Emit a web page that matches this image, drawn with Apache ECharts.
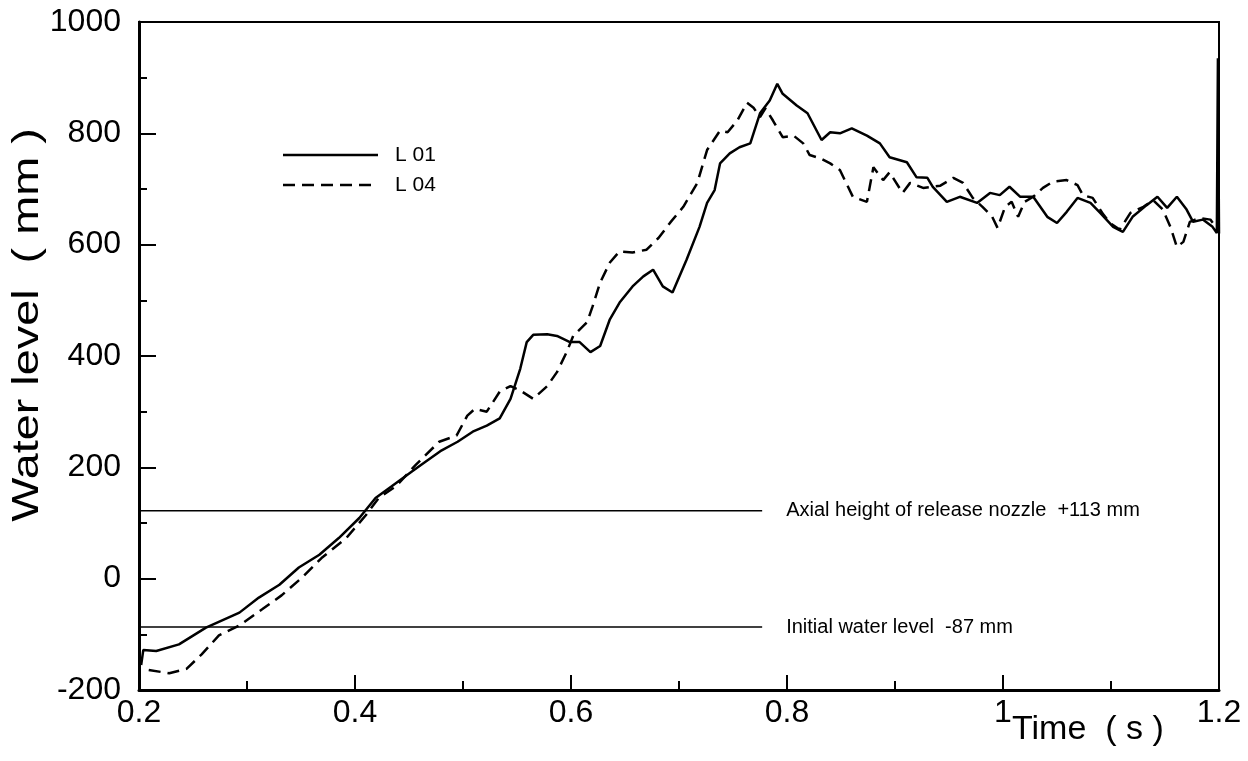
<!DOCTYPE html>
<html><head><meta charset="utf-8">
<script src="https://cdn.jsdelivr.net/npm/echarts@6/dist/echarts.min.js"></script>
<style>html,body{margin:0;padding:0;background:#fff}#c{width:1248px;height:761px}</style>
</head><body><div id="c"></div>
<script>
// ---- data (time in s, water level in mm) ----
const L01_t = [0.202,0.204,0.216,0.237,0.262,0.293,0.311,0.330,0.348,0.367,0.385,0.404,0.419,0.434,0.453,0.463,0.479,0.495,0.509,0.522,0.534,0.544,0.553,0.559,0.565,0.578,0.587,0.599,0.608,0.618,0.627,0.636,0.645,0.657,0.667,0.676,0.685,0.694,0.707,0.719,0.726,0.733,0.738,0.747,0.756,0.766,0.775,0.784,0.791,0.796,0.809,0.819,0.832,0.840,0.849,0.860,0.874,0.886,0.895,0.911,0.920,0.930,0.935,0.948,0.960,0.976,0.988,0.997,1.006,1.016,1.028,1.041,1.050,1.059,1.069,1.081,1.090,1.102,1.111,1.120,1.133,1.143,1.152,1.161,1.170,1.176,1.185,1.194,1.198,1.199,1.200];
const L01_v = [-155,-128,-130,-118,-88,-61,-34,-11,20,43,73,109,145,166,193,207,229,246,264,275,288,323,377,425,438,439,436,425,425,407,418,466,496,525,543,555,525,514,573,632,675,698,746,764,775,782,836,859,889,871,850,836,788,802,800,809,796,782,757,748,721,720,704,677,686,675,693,689,704,686,686,650,639,659,684,675,657,632,623,650,671,686,666,686,663,641,645,632,621,935,620];
const L04_t = [0.209,0.228,0.244,0.258,0.274,0.293,0.314,0.332,0.351,0.369,0.392,0.410,0.422,0.438,0.456,0.478,0.494,0.504,0.511,0.522,0.534,0.544,0.553,0.565,0.578,0.587,0.596,0.602,0.615,0.620,0.627,0.636,0.645,0.657,0.670,0.681,0.692,0.704,0.717,0.726,0.738,0.745,0.754,0.763,0.769,0.775,0.780,0.787,0.796,0.806,0.815,0.821,0.831,0.840,0.849,0.861,0.874,0.880,0.889,0.895,0.907,0.914,0.926,0.942,0.954,0.963,0.972,0.981,0.990,0.995,1.002,1.008,1.014,1.020,1.028,1.037,1.046,1.059,1.069,1.074,1.083,1.093,1.099,1.108,1.118,1.130,1.139,1.148,1.155,1.161,1.167,1.173,1.182,1.192,1.199];
const L04_v = [-164,-170,-162,-136,-102,-84,-55,-30,2,37,73,114,145,166,204,246,257,293,305,300,336,346,338,323,346,371,407,436,461,489,532,568,588,586,591,612,640,668,711,770,805,802,823,855,846,829,845,823,793,796,782,761,755,746,734,686,677,739,716,730,693,711,702,706,720,711,684,668,650,630,668,677,650,677,686,702,713,716,707,689,684,654,639,627,657,668,680,663,632,596,605,641,648,645,627];
const seriesNames = ['L 01','L 04'];
const refLevels = [122, -87];
const refLabels = ['Axial height of release nozzle  +113 mm', 'Initial water level  -87 mm'];
const refSpan = [0.2, 0.777];
const xTicks = {min:0.2, max:1.2, step:0.2};
const yTicks = {min:-200, max:1000, step:200};

function zip(a,b){return a.map((t,i)=>[t,b[i]]);}
const chart = echarts.init(document.getElementById('c'), null, {renderer:'canvas'});
const font = 'Liberation Sans';
const dash = [12,7];
const refSeries = refLevels.map((v,i)=>({
  type:'line', name:'ref'+i, silent:true, symbol:'none', animation:false,
  data:[[refSpan[0],v],[refSpan[1],v]],
  lineStyle:{color:'#000',width:1.5},
  endLabel:{show:true, formatter:refLabels[i], color:'#000', fontFamily:font, fontSize:20, distance:24}
}));
const legendGraphics = [];
seriesNames.forEach((n,i)=>{
  const y = 155 + i*30;
  legendGraphics.push({type:'line', shape:{x1:283,y1:y,x2:378,y2:y}, style:{stroke:'#000', lineWidth:2.5, lineDash: i===1 ? dash : null}});
  legendGraphics.push({type:'text', x:395, y:y, style:{text:n, fill:'#000', font:'21px "Liberation Sans"', verticalAlign:'middle'}});
});
chart.setOption({
  animation:false,
  backgroundColor:'#fff',
  grid:{left:139, top:22, right:29, bottom:71, show:true, borderColor:'#000', borderWidth:2, backgroundColor:'transparent'},
  xAxis:{
    type:'value', min:xTicks.min, max:xTicks.max, interval:xTicks.step,
    axisLine:{show:true, onZero:false, lineStyle:{color:'#000', width:3}},
    axisTick:{show:true, inside:true, length:15, lineStyle:{color:'#000', width:2}},
    minorTick:{show:true, splitNumber:2, length:9, lineStyle:{color:'#000', width:2}},
    splitLine:{show:false},
    axisLabel:{color:'#000', fontFamily:font, fontSize:32, margin:7, formatter:v=>String(+v.toFixed(1))}
  },
  yAxis:{
    type:'value', min:yTicks.min, max:yTicks.max, interval:yTicks.step,
    axisLine:{show:true, onZero:false, lineStyle:{color:'#000', width:3}},
    axisTick:{show:true, inside:true, length:17, lineStyle:{color:'#000', width:2}},
    minorTick:{show:true, splitNumber:2, length:8, lineStyle:{color:'#000', width:2}},
    splitLine:{show:false},
    axisLabel:{color:'#000', fontFamily:font, fontSize:32, margin:18, formatter:v=>String(v)}
  },
  graphic:[
    {type:'text', left:1012, top:713, style:{text:'Time  ( s )', fill:'#000', font:'34px "Liberation Sans"'}},
    {type:'text', x:28, y:325, rotation:Math.PI/2, scaleX:1.3, style:{text:'Water level  ( mm )', fill:'#000', font:'36px "Liberation Sans"', align:'center', verticalAlign:'middle'}}
  ].concat(legendGraphics),
  series:[
    {type:'line', name:seriesNames[0], symbol:'none', data:zip(L01_t,L01_v), lineStyle:{color:'#000', width:2.5}, itemStyle:{color:'#000'}},
    {type:'line', name:seriesNames[1], symbol:'none', data:zip(L04_t,L04_v), lineStyle:{color:'#000', width:2.5, type:dash}, itemStyle:{color:'#000'}}
  ].concat(refSeries)
});
</script></body></html>
